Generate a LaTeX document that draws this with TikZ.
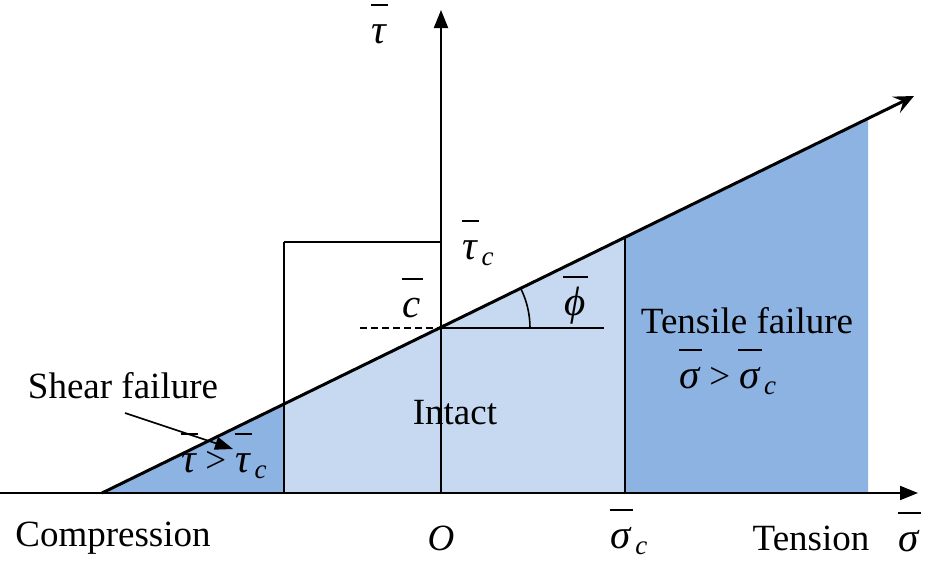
\documentclass[tikz,border=0pt]{standalone}
\usepackage{fontspec}
\setmainfont{Liberation Serif}
\usetikzlibrary{arrows.meta}
\definecolor{darkb}{HTML}{8DB3E2}
\definecolor{lightb}{HTML}{C6D9F1}
\newcommand{\ovl}[1]{\leavevmode\setbox0\hbox{\fontsize{41}{44}\selectfont\itshape #1}\hbox{\rlap{\hspace{-0.05\wd0}\rule[1.0em]{1.15\wd0}{2.2pt}}\box0}}
\newcommand{\subc}{\raisebox{-0.18em}{\fontsize{27}{30}\selectfont\itshape\,c}}
\begin{document}
\begin{tikzpicture}[x=1pt,y=-1pt,
  lbl/.style={font=\fontsize{37}{44}\selectfont, inner sep=0pt},
  axis/.style={line width=2pt,-{Triangle[length=18pt,width=14pt]}},
  thin/.style={line width=1.6pt}]
\useasboundingbox (0,0) rectangle (930,562);
\coordinate (A) at (102,493);
\coordinate (B) at (284,404);
\coordinate (C) at (625,238);
\coordinate (D) at (868,120);
\coordinate (E) at (914,96);
\coordinate (O) at (441,493);
\coordinate (P) at (441,328);
\coordinate (B0) at (284,493);
\coordinate (C0) at (625,493);
\coordinate (D0) at (868,493);
\coordinate (BT) at (284,242);
\coordinate (OT) at (441,242);
% fills
\fill[darkb] (A) -- (B) -- (B0) -- cycle;
\fill[lightb] (B) -- (C) -- (C0) -- (B0) -- cycle;
\fill[darkb] (C) -- (D) -- (D0) -- (C0) -- cycle;
% lines
\draw[thin] (BT) -- (B0);
\draw[thin] (BT) -- (OT);
\draw[thin] (C) -- (C0);
\draw[thin, dash pattern=on 7pt off 4pt] (360,328) -- (P);
\draw[thin] (P) -- (604,328);
\draw[thin] (530,328) arc[start angle=0,end angle=-26,radius=89];
% axes
\coordinate (XL) at (0,493);
\coordinate (XR) at (918,493);
\coordinate (YT) at (441,10);
\draw[axis] (XL) -- (XR);
\draw[axis] (O) -- (YT);
% Mohr-Coulomb line
\draw[line width=3pt,-{Stealth[length=20pt,width=18pt,inset=8pt]}] (A) -- (E);
% labels
\node[lbl] (tauy) at (379,24) {\ovl{τ}};
\node[lbl] (tauc) at (478,243) {\ovl{τ}\subc};
\node[lbl] (cbar) at (412,298) {\ovl{c}};
\node[lbl] (phib) at (575,300) {\ovl{ϕ}};
\node[lbl] (tens) at (747,321) {Tensile failure};
\node[lbl] (sgc) at (728,372) {\ovl{σ} > \ovl{σ}\subc};
\node[lbl] (intact) at (455,413) {Intact};
\node[lbl] (shear) at (123,386) {Shear failure};
\node[lbl] (tgc) at (224,456) {\ovl{τ} > \ovl{τ}\subc};
\node[lbl] (comp) at (113,538) {Compression};
\node[lbl] (ol) at (441,538) {\textit{O}};
\node[lbl] (sc) at (629,532) {\ovl{σ}\subc};
\node[lbl] (tension) at (811,538) {Tension};
\node[lbl] (sx) at (909,532) {\ovl{σ}};
\coordinate (ST) at (125,413);
\coordinate (SE) at (233,449);
\draw[thin,-{Triangle[length=18pt,width=13pt]}] (ST) -- (SE);
\end{tikzpicture}
\end{document}
